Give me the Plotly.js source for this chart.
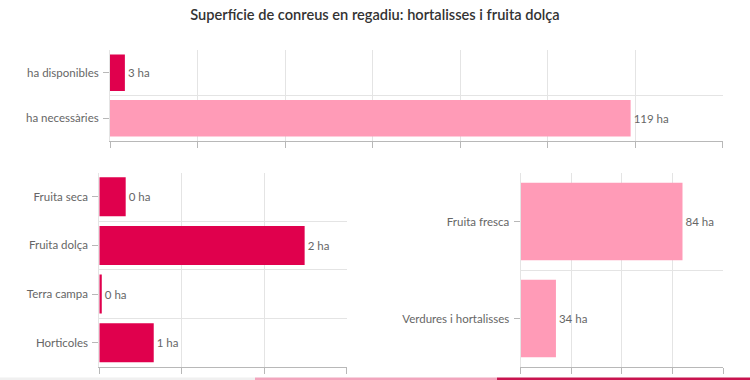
<!DOCTYPE html>
<html>
<head>
<meta charset="utf-8">
<script src="https://cdn.plot.ly/plotly-3.0.1.min.js"></script>
<style>html,body{margin:0;padding:0;background:#fff}#chart{width:750px;height:380px}</style>
</head>
<body>
<div id="chart"></div>
<script>
// ---- data ----
const titleText = 'Superfície de conreus en regadiu: hortalisses i fruita dolça';
const unit = ' ha';

const topCats = ['ha disponibles', 'ha necessàries'];
const topVals = [3.4, 119];

const partCats = ['Fruita seca', 'Fruita dolça', 'Terra campa', 'Horticoles'];
const partVals = [0.32, 2.49, 0.03, 0.66];

const groupCats = ['Fruita fresca', 'Verdures i hortalisses'];
const groupVals = [84, 34];

// ---- styles ----
const CRIMSON = '#e0004d';
const PINK = '#ff9bb7';
const GRID = '#e4e4e4';
const AXIS = '#b8b8b8';
const TXT = '#666666';
const FONT = 'Lato, "Open Sans", sans-serif';

const lbl = v => Math.round(v) + unit;

function barTrace(cats, vals, colors, xa, ya) {
  return {
    type: 'bar', orientation: 'h',
    y: cats, x: vals,
    xaxis: xa, yaxis: ya,
    marker: {color: colors, line: {width: 0}},
    text: vals.map(lbl), textposition: 'outside', cliponaxis: false,
    textfont: {family: FONT, size: 11.5, color: TXT},
    hoverinfo: 'none', showlegend: false
  };
}
// empty helper traces so the overlay grid axes get a subplot
function gridHelper(xa, ya) {
  return {type: 'scatter', mode: 'markers', x: [], y: [], xaxis: xa, yaxis: ya,
          hoverinfo: 'none', showlegend: false};
}

const traces = [
  gridHelper('x', 'y4'),
  gridHelper('x2', 'y5'),
  gridHelper('x3', 'y6'),
  barTrace(topCats, topVals, [CRIMSON, PINK], 'x', 'y'),
  barTrace(partCats, partVals, partCats.map(() => CRIMSON), 'x2', 'y2'),
  barTrace(groupCats, groupVals, groupCats.map(() => PINK), 'x3', 'y3')
];

function xAxis(domain, range, dtick, anchor) {
  return {
    domain: domain, range: range, dtick: dtick, tick0: range[0], anchor: anchor,
    showgrid: true, gridcolor: GRID, gridwidth: 1,
    zeroline: false, showline: true, linecolor: AXIS, linewidth: 1,
    ticks: 'outside', ticklen: 6, tickcolor: AXIS, tickwidth: 1,
    showticklabels: false, fixedrange: true
  };
}
function yCat(domain, cats, anchor) {
  return {
    domain: domain, type: 'category', categoryorder: 'array', categoryarray: cats,
    range: [cats.length - 0.5, -0.5], anchor: anchor,
    showgrid: false, zeroline: false, showline: true, linecolor: GRID,
    ticks: 'outside', ticklen: 6, tickcolor: AXIS, tickwidth: 1,
    ticklabelstandoff: 2,
    tickfont: {family: FONT, size: 11.5, color: TXT}, fixedrange: true
  };
}
function yGrid(over, anchor, n) {
  return {
    overlaying: over, anchor: anchor, side: 'left', type: 'linear',
    range: [n - 0.5, -0.5], autorange: false, tick0: -0.5, dtick: 1,
    showgrid: true, gridcolor: GRID, gridwidth: 1,
    zeroline: false, showline: false, ticks: '', showticklabels: false,
    fixedrange: true
  };
}

const H = 380, W = 750;
const layout = {
  width: W, height: H,
  margin: {l: 0, r: 0, t: 0, b: 0},
  paper_bgcolor: '#ffffff', plot_bgcolor: 'rgba(0,0,0,0)',
  font: {family: FONT, color: TXT},
  bargap: 0.2,
  title: {
    text: titleText, x: 0.5, xanchor: 'center', y: 1 - 15 / H, yanchor: 'middle',
    font: {family: FONT, size: 14.6, color: '#333333', weight: 600}
  },
  xaxis: xAxis([110 / W, 722.5 / W], [0, 140], 20, 'y'),
  yaxis: yCat([1 - 141 / H, 1 - 50 / H], topCats, 'x'),
  xaxis2: xAxis([99.3 / W, 346.7 / W], [0, 3], 1, 'y2'),
  yaxis2: yCat([1 - 367 / H, 1 - 172.5 / H], partCats, 'x2'),
  xaxis3: xAxis([520.5 / W, 723 / W], [20, 100], 20, 'y3'),
  yaxis3: yCat([1 - 367 / H, 1 - 173 / H], groupCats, 'x3'),
  yaxis4: yGrid('y', 'x', topCats.length),
  yaxis5: yGrid('y2', 'x2', partCats.length),
  yaxis6: yGrid('y3', 'x3', groupCats.length),
  shapes: [
    {type: 'rect', xref: 'paper', yref: 'paper', x0: 0, x1: 255 / W, y0: 0, y1: 2.5 / H, fillcolor: '#f0f0f0', line: {width: 0}},
    {type: 'rect', xref: 'paper', yref: 'paper', x0: 255 / W, x1: 497 / W, y0: 0, y1: 2.5 / H, fillcolor: '#f2a5bd', line: {width: 0}},
    {type: 'rect', xref: 'paper', yref: 'paper', x0: 497 / W, x1: 1, y0: 0, y1: 2.5 / H, fillcolor: '#c8144f', line: {width: 0}}
  ]
};

Plotly.newPlot('chart', traces, layout, {displayModeBar: false, staticPlot: true});
</script>
</body>
</html>
